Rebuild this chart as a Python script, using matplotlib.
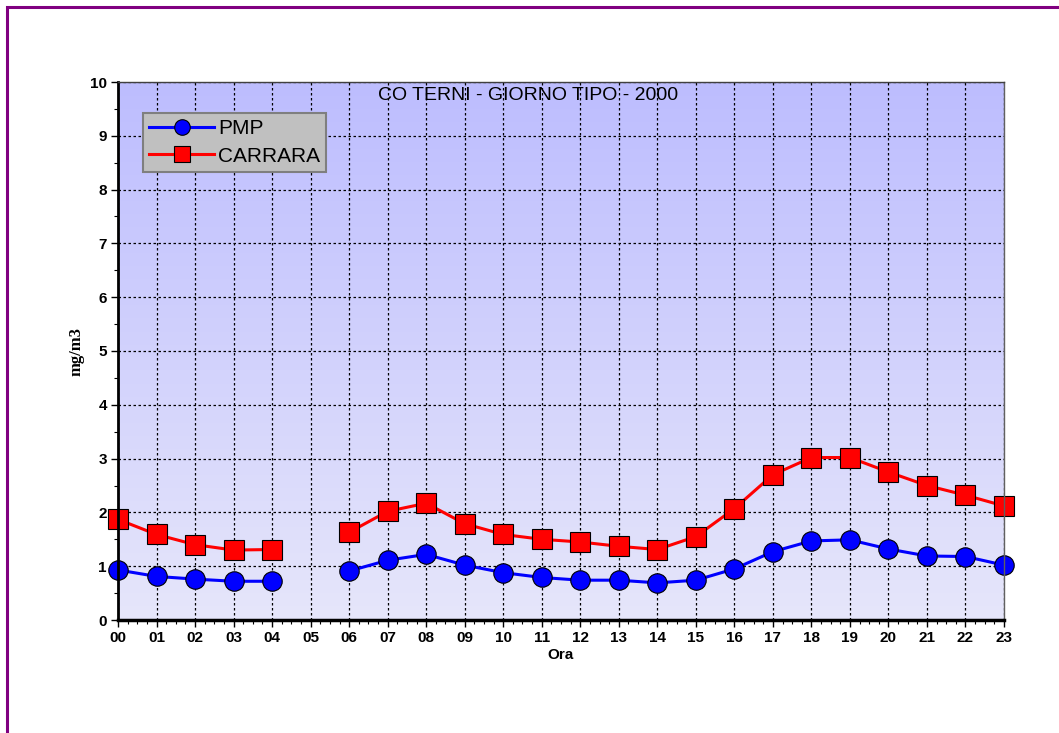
import numpy as np
import matplotlib
matplotlib.use("Agg")
import matplotlib.pyplot as plt
from matplotlib.colors import LinearSegmentedColormap
from matplotlib.patches import Rectangle
from matplotlib.ticker import MultipleLocator

hours = ["00", "01", "02", "03", "04", "05", "06", "07", "08", "09", "10", "11",
         "12", "13", "14", "15", "16", "17", "18", "19", "20", "21", "22", "23"]
pmp = [0.93, 0.81, 0.76, 0.72, 0.72, np.nan, 0.91, 1.11, 1.22, 1.02, 0.88, 0.79,
       0.74, 0.74, 0.69, 0.74, 0.95, 1.27, 1.47, 1.49, 1.32, 1.19, 1.18, 1.02]
carrara = [1.87, 1.59, 1.40, 1.30, 1.31, np.nan, 1.63, 2.02, 2.17, 1.79, 1.59, 1.50,
           1.45, 1.37, 1.31, 1.55, 2.07, 2.70, 3.02, 3.02, 2.75, 2.50, 2.32, 2.12]
title = "CO TERNI - GIORNO TIPO - 2000"

W, H = 1059, 733
fig = plt.figure(figsize=(W / 100, H / 100), dpi=100)
fig.patch.set_facecolor("white")

# purple frame
fig.patches.append(Rectangle((7 / W, -0.01), 1.05, (H - 7) / H + 0.01 - 0.0005,
                             transform=fig.transFigure, fill=False,
                             edgecolor="#800080", linewidth=2.2))

ax = fig.add_axes([118 / W, (H - 620) / H, 886 / W, 538 / H])
x = np.arange(len(hours))

# gradient background
cmap = LinearSegmentedColormap.from_list("bg", ["#E6E6FA", "#BDBDFF"])
grad = np.linspace(0, 1, 256).reshape(-1, 1)
ax.imshow(grad, cmap=cmap, aspect="auto", origin="lower",
          extent=[0, 1, 0, 1], transform=ax.transAxes, zorder=0)

ax.set_xlim(0, 23)
ax.set_ylim(0, 10)

ax.text((378 - 118) / 886, (620 - 95) / 538, title, transform=ax.transAxes,
        ha="left", va="center", fontsize=14, family="Liberation Sans", zorder=1)

ax.grid(True, which="major", color="black", linestyle=(0, (2, 2)), linewidth=0.9)
ax.set_axisbelow(False)
for gl in ax.get_xgridlines() + ax.get_ygridlines():
    gl.set_zorder(1.5)

ax.plot(x, pmp, color="#0000FF", linewidth=2.2, marker="o", markersize=14,
        markerfacecolor="#0000FF", markeredgecolor="black", markeredgewidth=0.8,
        label="PMP", zorder=3, clip_on=False)
ax.plot(x, carrara, color="#FF0000", linewidth=2.2, marker="s", markersize=15,
        markerfacecolor="#FF0000", markeredgecolor="black", markeredgewidth=0.8,
        label="CARRARA", zorder=3, clip_on=False)

ax.set_xticks(x)
ax.set_xticklabels(hours)
ax.xaxis.set_minor_locator(MultipleLocator(0.25))
ax.set_yticks(np.arange(0, 11, 1))
ax.yaxis.set_minor_locator(MultipleLocator(0.5))
ax.tick_params(axis="both", which="major", direction="out", length=5, width=1,
               labelsize=11, pad=3)
ax.tick_params(axis="both", which="minor", direction="out", length=3, width=0.8)
for lab in ax.get_xticklabels() + ax.get_yticklabels():
    lab.set_fontweight("bold")
    lab.set_family("Liberation Sans")

ax.set_xlabel("Ora", fontsize=11, fontweight="bold", family="Liberation Sans", labelpad=2)
ax.set_ylabel("mg/m3", fontsize=12, fontweight="bold", family="Liberation Serif", labelpad=4)

ax.spines["left"].set_linewidth(2)
ax.spines["bottom"].set_linewidth(2.5)
ax.spines["top"].set_linewidth(1)
ax.spines["right"].set_linewidth(1)
ax.spines["top"].set_color("#404040")
ax.spines["right"].set_color("#606060")
for s in ax.spines.values():
    s.set_zorder(4)

leg = ax.legend(loc="upper left", bbox_to_anchor=((143 - 118) / 886, (620 - 113) / 538),
                frameon=True, fancybox=False, framealpha=1, facecolor="#C0C0C0",
                edgecolor="#7F7F7F", prop={"family": "Liberation Sans", "size": 15},
                handlelength=3.1, handletextpad=0.2, borderpad=0.3,
                labelspacing=0.4, borderaxespad=0, markerscale=0.8)
leg.get_frame().set_linewidth(1.5)
leg.set_zorder(5)

fig.savefig("out.png", dpi=100, facecolor="white")
